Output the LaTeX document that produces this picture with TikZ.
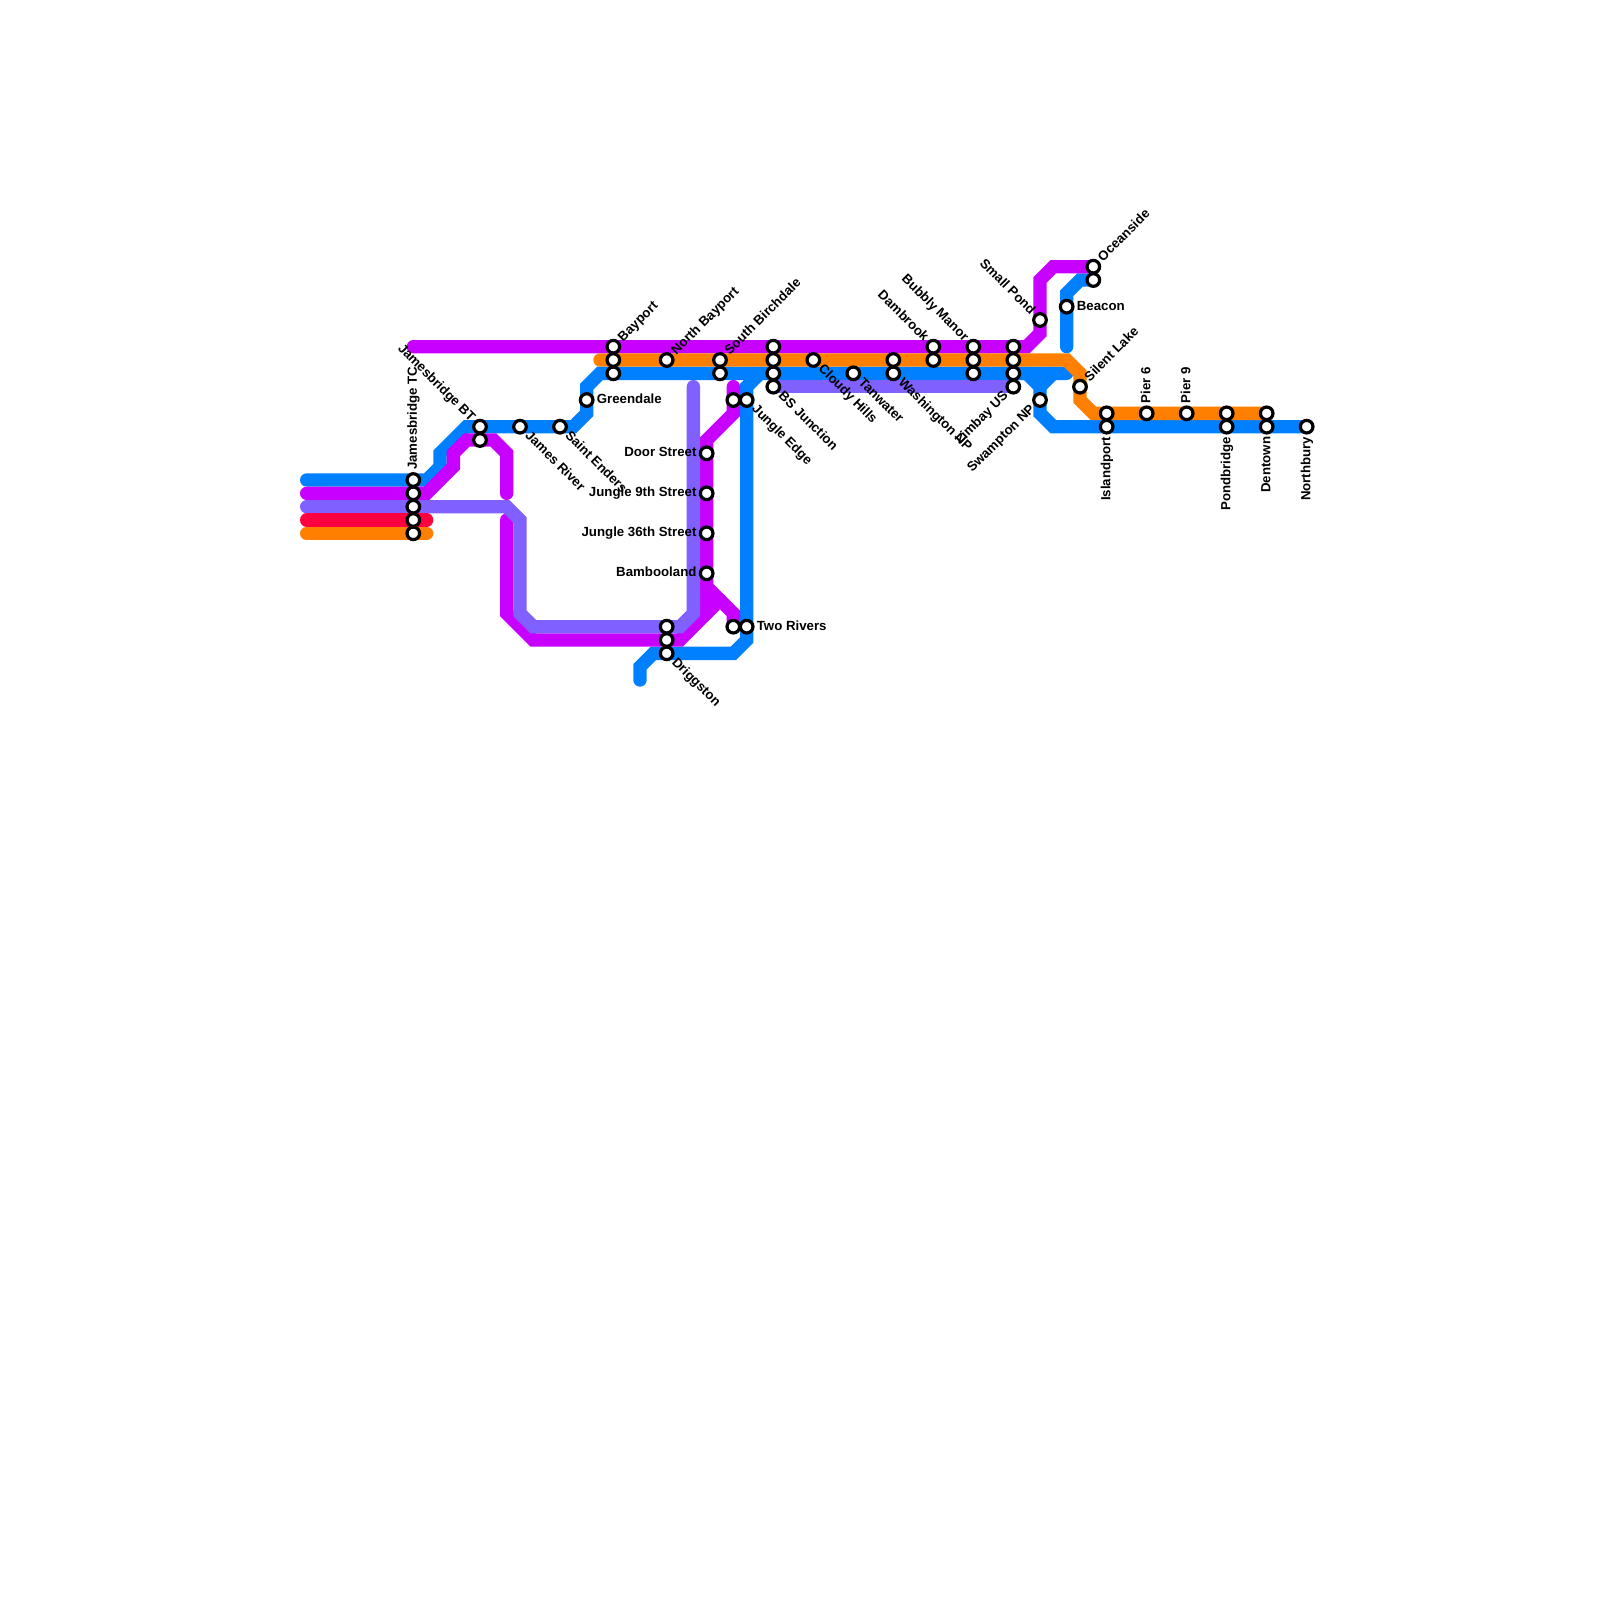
\documentclass[tikz,border=0pt]{standalone}
\usepackage{fontspec}
\setmainfont{Liberation Sans}
\usetikzlibrary{backgrounds}
\definecolor{lblue}{HTML}{0080FF}
\definecolor{lmag}{HTML}{C800FF}
\definecolor{lpur}{HTML}{8060FF}
\definecolor{lred}{HTML}{FF0040}
\definecolor{lora}{HTML}{FF8000}
\tikzset{
  x=13.3333pt,y=-13.3333pt,
  metro/.style={line width=13.3333pt,line cap=round,line join=miter},
  stn/.style={circle,draw=black,fill=white,line width=3.2pt,minimum size=12.6pt,inner sep=0pt},
  lab/.style={font=\fontsize{13.25}{13.25}\selectfont\bfseries,inner sep=0pt,text=black},
}
\newcommand{\st}[3]{\node[stn] (#1) at (#2,#3) {};}
% label that starts at the station and runs away from it
\newcommand{\labout}[4][10pt]{\node[lab,rotate=#3,anchor=mid west] (t-#2) at ([shift={(#3:#1)},shift={(#3-90:1pt)}]#2.center) {#4};}
% label that ends at the station (angle is the side on which it lies; the text is rotated by angle-180)
\newcommand{\labin}[4][10pt]{\pgfmathsetmacro{\rr}{#3-180}\node[lab,rotate=\rr,anchor=mid east] (t-#2) at ([shift={(#3:#1)},shift={(#3+90:1pt)}]#2.center) {#4};}
\begin{document}
\begin{tikzpicture}
\useasboundingbox (0,0) rectangle (120,120);
% stations
\st{jtcA}{31}{36}\st{jtcB}{31}{37}\st{jtcC}{31}{38}\st{jtcD}{31}{39}\st{jtcE}{31}{40}
\st{jbtA}{36}{32}\st{jbtB}{36}{33}
\st{jriv}{39}{32}\st{send}{42}{32}\st{gren}{44}{30}
\st{bayA}{46}{26}\st{bayB}{46}{27}\st{bayC}{46}{28}
\st{nbay}{50}{27}
\st{sbirA}{54}{27}\st{sbirB}{54}{28}
\st{bsjA}{58}{26}\st{bsjB}{58}{27}\st{bsjC}{58}{28}\st{bsjD}{58}{29}
\st{jedA}{55}{30}\st{jedB}{56}{30}
\st{door}{53}{34}\st{jnin}{53}{37}\st{jthi}{53}{40}\st{bamb}{53}{43}
\st{twoA}{55}{47}\st{twoB}{56}{47}
\st{driA}{50}{47}\st{driB}{50}{48}\st{driC}{50}{49}
\st{clou}{61}{27}\st{tanw}{64}{28}
\st{washA}{67}{27}\st{washB}{67}{28}
\st{damA}{70}{26}\st{damB}{70}{27}
\st{bubA}{73}{26}\st{bubB}{73}{27}\st{bubC}{73}{28}
\st{limA}{76}{26}\st{limB}{76}{27}\st{limC}{76}{28}\st{limD}{76}{29}
\st{swam}{78}{30}\st{smal}{78}{24}\st{beac}{80}{23}
\st{oceA}{82}{20}\st{oceB}{82}{21}
\st{sila}{81}{29}
\st{islA}{83}{31}\st{islB}{83}{32}
\st{piesix}{86}{31}\st{pienin}{89}{31}
\st{ponA}{92}{31}\st{ponB}{92}{32}
\st{denA}{95}{31}\st{denB}{95}{32}
\st{nort}{98}{32}
% free ends of the lines
\coordinate (bw) at (23,36);\coordinate (mw) at (23,37);\coordinate (pw) at (23,38);
\coordinate (rw) at (23,39);\coordinate (ow) at (23,40);
\coordinate (re) at (32,39);\coordinate (oe) at (32,40);
\coordinate (ot) at (45,27);
\begin{scope}[on background layer]
% blue
\draw[metro,lblue] (bw) -- (jtcA.center) -- (32,36) -- (33,35) -- (33,34) -- (35,32) -- (jbtA.center) -- (jriv.center) -- (send.center) -- (43,32) -- (44,31) -- (gren.center) -- (44,29) -- (45,28) -- (bayC.center) -- (sbirB.center) -- (bsjC.center) -- (tanw.center) -- (washB.center) -- (bubC.center) -- (limC.center) -- (80,28);
\draw[metro,lblue] (77,28) -- (78,29) -- (swam.center) -- (78,31) -- (79,32) -- (islB.center) -- (ponB.center) -- (denB.center) -- (nort.center);
\draw[metro,lblue] (79,28) -- (78,29);
\draw[metro,lblue] (80,26) -- (beac.center) -- (80,22) -- (81,21) -- (oceB.center);
\draw[metro,lblue] (57,28) -- (56,29) -- (jedB.center) -- (twoB.center) -- (56,48) -- (55,49) -- (driC.center) -- (49,49) -- (48,50) -- (48,51);
% magenta
\draw[metro,lmag] (mw) -- (jtcB.center) -- (32,37) -- (34,35) -- (34,34) -- (35,33) -- (jbtB.center) -- (37,33) -- (38,34) -- (38,37);
\draw[metro,lmag] (38,39) -- (38,46) -- (40,48) -- (driB.center) -- (51,48) -- (54,45);
\draw[metro,lmag] (55,29) -- (jedA.center) -- (55,31) -- (53,33) -- (door.center) -- (jnin.center) -- (jthi.center) -- (bamb.center) -- (53,46);
\draw[metro,lmag] (53,44) -- (55,46) -- (twoA.center);
\draw[metro,lmag] (31,26) -- (bayA.center) -- (bsjA.center) -- (damA.center) -- (bubA.center) -- (limA.center) -- (77,26) -- (78,25) -- (smal.center) -- (78,21) -- (79,20) -- (oceA.center);
% purple
\draw[metro,lpur] (pw) -- (jtcC.center) -- (38,38) -- (39,39) -- (39,46) -- (40,47) -- (driA.center) -- (51,47) -- (52,46) -- (52,29);
\draw[metro,lpur,line cap=butt] (bsjD.center) -- (limD.center);
% red
\draw[metro,lred] (rw) -- (jtcD.center) -- (re);
% orange
\draw[metro,lora] (ow) -- (jtcE.center) -- (oe);
\draw[metro,lora] (ot) -- (bayB.center) -- (nbay.center) -- (sbirA.center) -- (bsjB.center) -- (clou.center) -- (washA.center) -- (damB.center) -- (bubB.center) -- (limB.center) -- (80,27) -- (81,28) -- (sila.center) -- (81,30) -- (82,31) -- (islA.center) -- (piesix.center) -- (pienin.center) -- (ponA.center) -- (denA.center);
\end{scope}
% labels
\labout{jtcA}{90}{Jamesbridge TC}
\labin{jbtA}{135}{Jamesbridge BT}
\labout{jriv}{-45}{James River}
\labout{send}{-45}{Saint Enders}
\labout{gren}{0}{Greendale}
\labout{bayA}{45}{Bayport}
\labout{nbay}{45}{North Bayport}
\labout{sbirA}{45}{South Birchdale}
\labout{bsjD}{-45}{BS Junction}
\labout{jedB}{-45}{Jungle Edge}
\labin{door}{180}{Door Street}
\labin{jnin}{180}{Jungle 9th Street}
\labin{jthi}{180}{Jungle 36th Street}
\labin{bamb}{180}{Bambooland}
\labout{twoB}{0}{Two Rivers}
\labout{driC}{-45}{Driggston}
\labout{clou}{-45}{Cloudy Hills}
\labout{tanw}{-45}{Tanwater}
\labout{washB}{-45}{Washington NP}
\labin{damA}{135}{Dambrook}
\labin{bubA}{135}{Bubbly Manor}
\labin{limD}{225}{Limbay US}
\labin{swam}{225}{Swampton NP}
\labin{smal}{135}{Small Pond}
\labout{beac}{0}{Beacon}
\labout{oceA}{45}{Oceanside}
\labout{sila}{45}{Silent Lake}
\labin{islB}{270}{Islandport}
\labout{piesix}{90}{Pier 6}
\labout{pienin}{90}{Pier 9}
\labin{ponB}{270}{Pondbridge}
\labin{denB}{270}{Dentown}
\labin{nort}{270}{Northbury}
\end{tikzpicture}
\end{document}
